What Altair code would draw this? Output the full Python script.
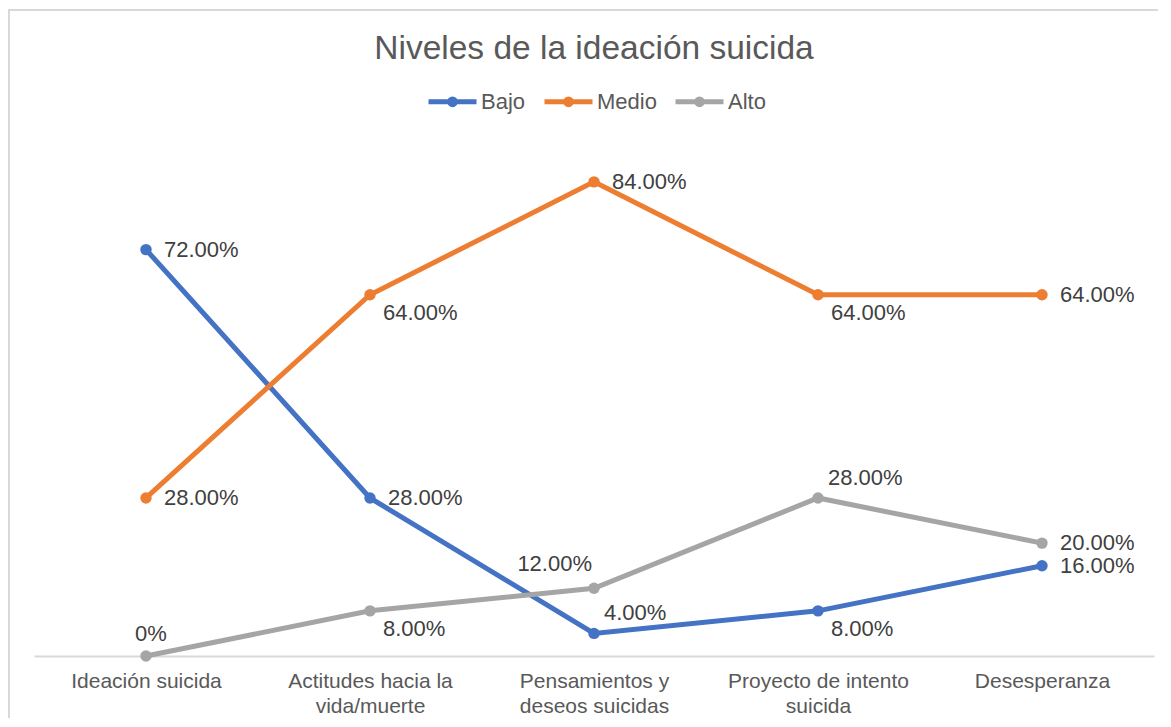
import altair as alt
import pandas as pd

categories = ["Ideación suicida", "Actitudes hacia la vida/muerte",
              "Pensamientos y deseos suicidas", "Proyecto de intento suicida",
              "Desesperanza"]
tick_lines = [["Ideación suicida"], ["Actitudes hacia la", "vida/muerte"],
              ["Pensamientos y", "deseos suicidas"], ["Proyecto de intento", "suicida"],
              ["Desesperanza"]]
series = ["Bajo", "Medio", "Alto"]
colors = ["#4472C4", "#ED7D31", "#A5A5A5"]
bajo = [0.72, 0.28, 0.04, 0.08, 0.16]
medio = [0.28, 0.64, 0.84, 0.64, 0.64]
alto = [0.00, 0.08, 0.12, 0.28, 0.20]
# where each data label sits relative to its point
bajo_place = ["right", "right", "above", "below", "right"]
medio_place = ["right", "below", "right", "below", "right"]
alto_place = ["top", "below", "aboveleft", "above", "right"]

rows = []
for name, vals, places in [("Bajo", bajo, bajo_place), ("Medio", medio, medio_place),
                           ("Alto", alto, alto_place)]:
    for c, v, p in zip(categories, vals, places):
        rows.append({"cat": c, "serie": name, "valor": v, "place": p,
                     "etiqueta": "0%" if v == 0 else f"{v*100:.2f}%"})
df = pd.DataFrame(rows)

FONT = "Liberation Sans"

label_expr = ""
for c, lines in zip(categories, tick_lines):
    arr = "[" + ",".join("'" + l + "'" for l in lines) + "]"
    label_expr += f"datum.value == '{c}' ? {arr} : "
label_expr += "datum.label"

x_enc = alt.X("cat:N", sort=categories, title=None,
              axis=alt.Axis(labelAngle=0, labelFontSize=21, labelColor="#595959",
                            labelFont=FONT, domainColor="#D9D9D9", domainWidth=2,
                            ticks=False, labelPadding=14, labelLineHeight=25,
                            labelLimit=0, grid=False, labelExpr=label_expr))
y_enc = alt.Y("valor:Q", scale=alt.Scale(domain=[0, 0.9], nice=False), axis=None)

sym_path = ("M-1,0L1,0M-0.12,0a0.12,0.12 0 1,0 0.24,0a0.12,0.12 0 1,0 -0.24,0")
color_enc = alt.Color("serie:N", scale=alt.Scale(domain=series, range=colors),
                      sort=series,
                      legend=alt.Legend(orient="none", legendX=392, legendY=-73,
                                        direction="horizontal", title=None,
                                        symbolType=sym_path, symbolSize=2304,
                                        symbolStrokeWidth=5, labelFontSize=22,
                                        labelColor="#595959", labelFont=FONT,
                                        columnPadding=8, labelOffset=2))

base = alt.Chart(df)
lines = base.mark_line(strokeWidth=5).encode(x=x_enc, y=y_enc, color=color_enc,
                                             detail="serie:N")
points = base.mark_point(filled=True, size=130, opacity=1).encode(
    x=x_enc, y=y_enc, color=alt.Color("serie:N", scale=alt.Scale(domain=series, range=colors),
                                      legend=None))

placements = {
    "right": dict(dx=18, dy=0, align="left"),
    "below": dict(dx=13, dy=18, align="left"),
    "above": dict(dx=10, dy=-20, align="left"),
    "aboveleft": dict(dx=-2, dy=-24, align="right"),
    "top": dict(dx=5, dy=-22, align="center"),
}
texts = []
for p, kw in placements.items():
    texts.append(base.transform_filter(alt.datum.place == p).mark_text(
        baseline="middle", fontSize=22, font=FONT, color="#404040", **kw
    ).encode(x=x_enc, y=y_enc, text="etiqueta:N"))

bdf = pd.DataFrame({"a": [0]})
border_left = alt.Chart(bdf).mark_rule(color="#D9D9D9", strokeWidth=2).encode(
    x=alt.value(-25), y=alt.value(-139), y2=alt.value(575))
border_top = alt.Chart(bdf).mark_rule(color="#D9D9D9", strokeWidth=2).encode(
    x=alt.value(-26), x2=alt.value(1130), y=alt.value(-138))

chart = alt.layer(border_left, border_top, lines, points, *texts).properties(
    width=1120, height=508,
    autosize=alt.AutoSizeParams(type="none"),
    padding={"left": 26, "top": 140, "right": 4, "bottom": 62},
    title=alt.TitleParams("Niveles de la ideación suicida", fontSize=33.5, font=FONT,
                          color="#595959", fontWeight="normal", anchor="middle",
                          frame="group", offset=0, dy=58),
).configure(background="white").configure_view(stroke=None)

chart.save("out.html", embed_options={"renderer": "svg", "actions": False})
